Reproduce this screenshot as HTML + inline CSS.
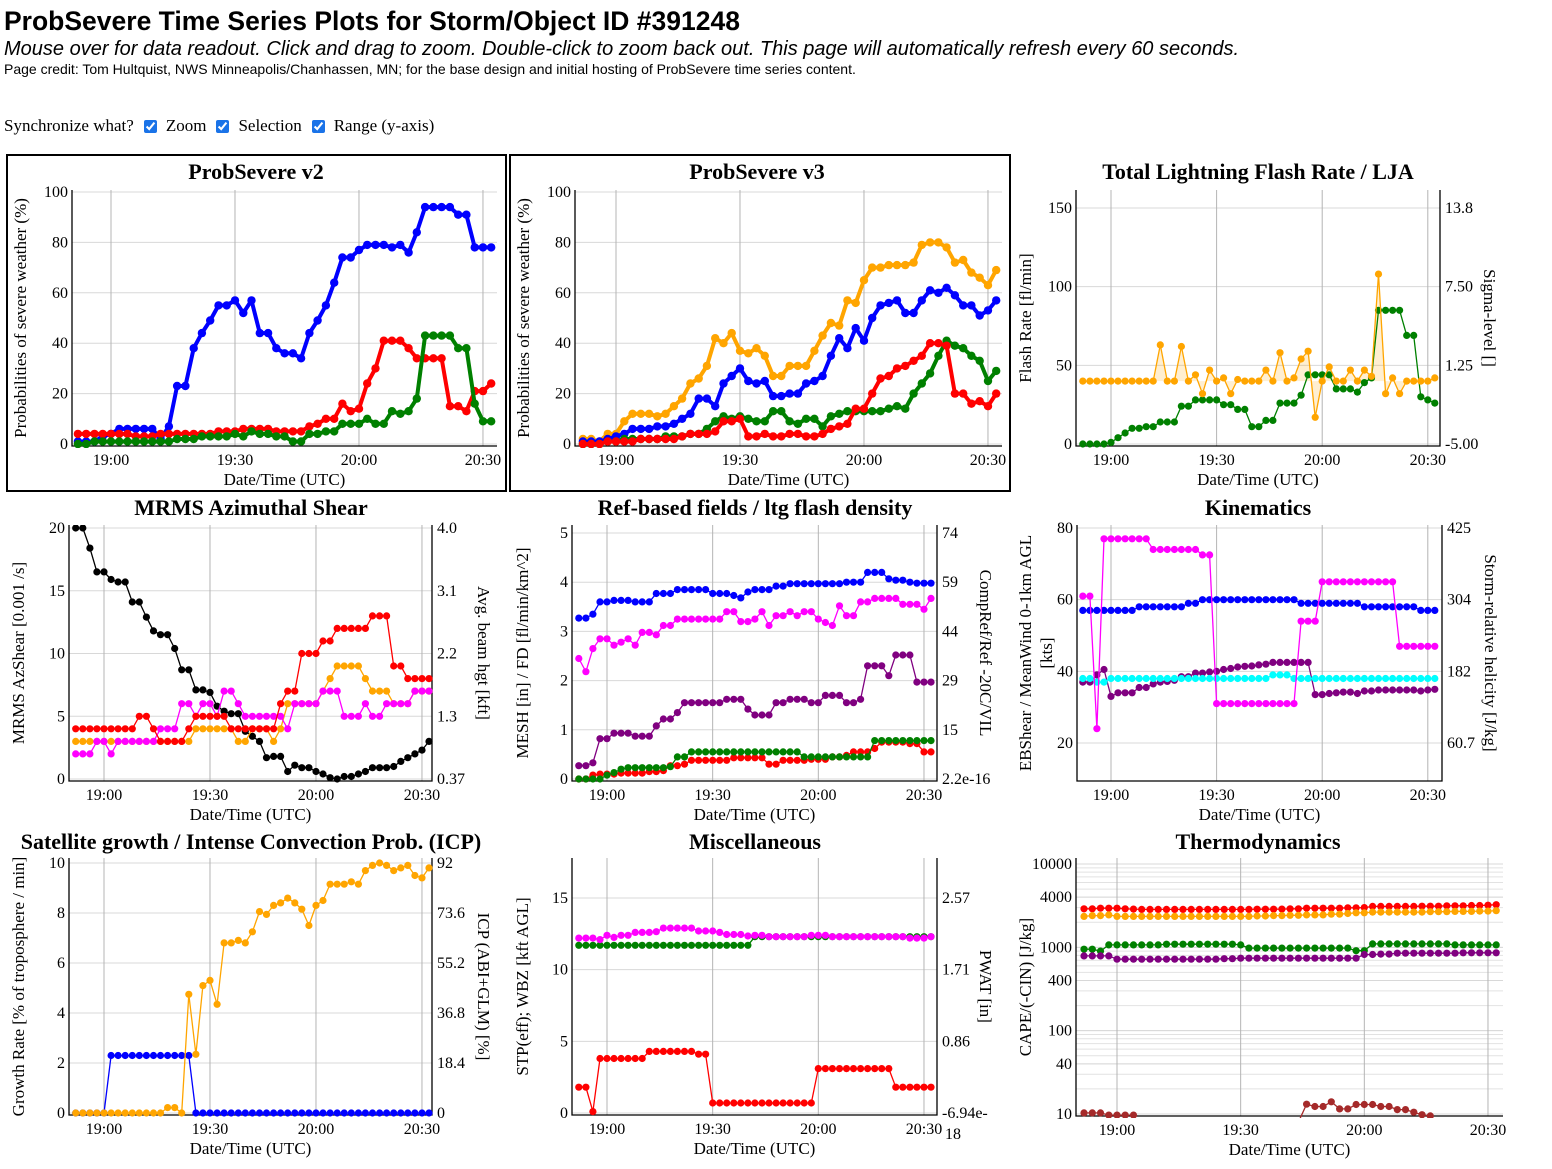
<!DOCTYPE html>
<html><head><meta charset="utf-8"><title>ProbSevere Time Series</title>
<style>
body{margin:0;width:1552px;height:1169px;background:#fff;position:relative;overflow:hidden;font-family:"Liberation Sans",sans-serif;}
#hdr{position:absolute;left:4px;top:0;}
h1{margin:0;position:absolute;top:6px;left:0;font:bold 26.5px "Liberation Sans",sans-serif;white-space:nowrap;}
.sub{position:absolute;top:38px;left:0;font:italic 20px "Liberation Sans",sans-serif;white-space:nowrap;}
.credit{position:absolute;top:61px;left:0;font:14px "Liberation Sans",sans-serif;white-space:nowrap;}
.sync{position:absolute;top:116px;left:0;font:17px "Liberation Serif",serif;white-space:nowrap;display:flex;align-items:center;}
.sync input{margin:0 9px 0 10px;width:13px;height:13px;accent-color:#1a73e8;}
svg{position:absolute;left:0;top:0;}
text{font-family:"Liberation Serif",serif;}
</style></head><body>
<div id="hdr">
<h1>ProbSevere Time Series Plots for Storm/Object ID #391248</h1>
<div class="sub">Mouse over for data readout. Click and drag to zoom. Double-click to zoom back out. This page will automatically refresh every 60 seconds.</div>
<div class="credit">Page credit: Tom Hultquist, NWS Minneapolis/Chanhassen, MN; for the base design and initial hosting of ProbSevere time series content.</div>
<div class="sync"><span>Synchronize what?</span><input type="checkbox" checked><span>Zoom</span><input type="checkbox" checked><span>Selection</span><input type="checkbox" checked><span>Range (y-axis)</span></div>
</div>
<svg id="charts" width="1552" height="1169">
<rect x="7" y="155" width="499" height="336" fill="none" stroke="#000" stroke-width="2"/>
<rect x="510" y="155" width="500" height="336" fill="none" stroke="#000" stroke-width="2"/>
</svg>
<script>
const times=["18:52","18:54","18:56","18:58","19:00","19:02","19:04","19:06","19:08","19:10","19:12","19:14","19:16","19:18","19:20","19:22","19:24","19:26","19:28","19:30","19:32","19:34","19:36","19:38","19:40","19:42","19:44","19:46","19:48","19:50","19:52","19:54","19:56","19:58","20:00","20:02","20:04","20:06","20:08","20:10","20:12","20:14","20:16","20:18","20:20","20:22","20:24","20:26","20:28","20:30","20:32"];
const xTickLabels=["19:00","19:30","20:00","20:30"];
// ProbSevere v2
const v2Blue=[1,1,1,3,4,6,6,6,6,6,2,7,23,23,38,44,49,55,55,57,52,57,44,44,38,36,36,34,44,49,55,64,74,74,77,79,79,79,78,79,76,84,94,94,94,94,91,91,78,78,78];
const v2Red=[4,4,4,4,4,4,4,3,3,3,4,4,4,4,4,4,4,5,5,5,6,6,6,6,5,5,5,5,7,8,10,10,16,13,14,24,30,41,41,41,38,34,34,34,34,15,15,13,21,21,24];
const v2Green=[0,0,1,1,1,1,1,1,1,1,1,1,2,2,2,3,3,3,3,4,3,5,4,4,3,3,1,1,4,4,5,5,8,8,8,10,8,8,13,12,13,18,43,43,43,43,38,38,16,9,9];
// ProbSevere v3
const v3Orange=[2,2,1,4,4,9,12,12,12,11,12,15,18,24,26,31,42,40,44,37,36,38,35,27,27,31,31,31,37,43,48,47,57,56,65,70,70,71,71,71,72,79,80,80,78,72,73,68,66,63,69];
const v3Blue=[1,1,1,2,3,4,6,6,6,7,7,8,10,12,18,18,15,24,27,30,25,24,25,19,19,20,20,24,25,27,35,42,38,46,41,50,55,56,57,52,52,57,61,60,62,59,55,55,51,53,57];
const v3Green=[0,0,0,1,1,2,2,2,2,2,3,3,3,4,4,6,9,11,10,11,10,9,9,13,13,9,8,10,10,7,11,12,13,13,13,13,13,14,15,14,20,24,28,35,41,39,38,35,33,25,29];
const v3Red=[0,0,0,1,1,1,1,2,2,2,2,2,3,4,4,4,5,9,9,10,3,3,4,3,3,4,4,3,3,4,6,7,8,14,14,20,26,27,30,31,33,35,40,40,39,20,20,16,17,15,20];
// Lightning
const flashRate=[40,40,40,40,40,40,40,40,40,40,40,63,40,40,62,40,44,32,47,40,42,32,41,40,40,40,47,40,58,40,42,54,59,17,40,49,40,40,47,40,47,43,108,32,42,32,40,40,40,40,42];
const ljaFlash=[0,0,0,0,1,4,7,10,10,11,11,14,14,14,24,24,28,28,28,28,25,25,22,22,11,11,15,15,26,26,26,31,44,44,44,44,35,35,35,33,39,42,85,85,85,85,69,69,30,28,26];
const flashBaseline=[40];
// AzShear
const azBlack=[20,20,18.4,16.5,16.5,15.9,15.7,15.7,14.1,14.1,12.9,11.8,11.5,11.5,10.4,8.7,8.7,7.1,7.1,6.9,5.8,5.4,5.2,5.2,3.8,3.4,3.0,1.7,1.8,1.8,0.6,1.1,0.9,0.9,0.6,0.4,0.1,0,0.2,0.2,0.4,0.6,0.9,0.9,0.9,1.0,1.4,1.7,2.0,2.3,3.0];
const azRed=[4,4,4,4,4,4,4,4,4,5,5,4,3,3,3,3,4,5,5,5,5,5,4,4,4,4,4,4,4,6,7,7,10,10,10,11,11,12,12,12,12,12,13,13,13,9,9,8,8,8,8];
const azOrange=[3,3,3,3,3,3,3,3,3,3,3,3,3,3,3,3,3,4,4,4,4,4,4,3,3,4,4,4,3,4,6,6,6,6,6,7,8,9,9,9,9,8,7,7,7,6,6,6,7,7,7];
const azMagenta=[2,2,2,3,3,2,3,3,3,3,3,3,4,4,4,6,6,5,6,6,5,7,7,6,5,5,5,5,5,5,4,6,6,6,6,7,7,7,5,5,5,6,5,5,6,6,6,6,7,7,7];
// Ref-based
const refBlue=[3.27,3.27,3.35,3.6,3.6,3.63,3.63,3.63,3.6,3.6,3.6,3.77,3.77,3.77,3.85,3.85,3.85,3.85,3.85,3.77,3.77,3.77,3.73,3.68,3.8,3.85,3.85,3.85,3.92,3.92,3.97,3.97,3.97,3.97,3.97,3.97,3.97,3.97,4.0,4.0,4.0,4.2,4.2,4.2,4.07,4.04,4.04,4.0,3.98,3.98,3.98];
const refMagenta=[2.45,2.18,2.65,2.85,2.85,2.72,2.78,2.85,2.72,2.98,2.98,2.93,3.12,3.12,3.25,3.25,3.25,3.25,3.25,3.25,3.25,3.4,3.4,3.2,3.2,3.25,3.4,3.12,3.32,3.32,3.4,3.32,3.4,3.4,3.25,3.18,3.12,3.52,3.32,3.32,3.6,3.6,3.67,3.67,3.67,3.67,3.55,3.55,3.55,3.45,3.67];
const refPurple=[0.27,0.27,0.33,0.82,0.82,0.93,0.93,0.93,0.87,0.87,0.87,1.08,1.22,1.22,1.35,1.55,1.55,1.55,1.55,1.55,1.55,1.62,1.62,1.62,1.42,1.3,1.3,1.3,1.55,1.55,1.62,1.62,1.62,1.55,1.55,1.7,1.7,1.7,1.55,1.55,1.62,2.3,2.3,2.3,2.1,2.52,2.52,2.52,1.97,1.97,1.97];
const refGreen=[0,0,0,0,0.08,0.13,0.2,0.23,0.23,0.23,0.23,0.23,0.23,0.25,0.45,0.45,0.55,0.55,0.55,0.55,0.55,0.55,0.55,0.55,0.55,0.55,0.55,0.55,0.55,0.55,0.55,0.55,0.45,0.45,0.45,0.45,0.45,0.45,0.45,0.45,0.45,0.45,0.78,0.78,0.78,0.78,0.78,0.78,0.78,0.78,0.78];
const refRed=[0,0,0.08,0.1,0.1,0.1,0.12,0.12,0.12,0.12,0.15,0.15,0.17,0.27,0.27,0.3,0.38,0.38,0.38,0.38,0.38,0.38,0.43,0.43,0.43,0.43,0.43,0.3,0.3,0.38,0.38,0.38,0.38,0.4,0.4,0.4,0.45,0.45,0.48,0.55,0.55,0.55,0.62,0.75,0.75,0.75,0.75,0.72,0.72,0.55,0.55];
// Kinematics
const kinBlue=[57,57,57,57,57,57,57,57,58,58,58,58,58,58,58,59,59,60,60,60,60,60,60,60,60,60,60,60,60,60,60,59,59,59,59,59,59,59,59,59,58,58,58,58,58,58,58,58,57,57,57];
const kinMagenta=[61,61,24,77,77,77,77,77,77,77,74,74,74,74,74,74,74,72.5,72.5,31,31,31,31,31,31,31,31,31,31,31,31,54,54,54,65,65,65,65,65,65,65,65,65,65,65,47,47,47,47,47,47];
const kinCyan=[38,38,37,37,38,38,38,38,38,38,38,38,38,38,38,38,38,38,38,38,38,38,38,38,38,38,38,39,39,39,38,38,38,38,38,38,38,38,38,38,38,38,38,38,38,38,38,38,38,38,38];
const kinPurple=[37,37,39,40.5,33,34,34,34,35.5,35.5,36.5,37,37.2,37.5,38.5,38.5,39.5,39.5,39.8,40,40.5,40.8,41.2,41.4,41.5,41.8,42,42.5,42.5,42.5,42.5,42.5,42.5,33.5,33.5,33.8,34,34.2,34.2,33.8,34.5,34.5,34.8,34.8,34.8,34.8,34.8,34.8,34.5,34.8,35];
// Satellite
const satBlue=[0,0,0,0,0,2.3,2.3,2.3,2.3,2.3,2.3,2.3,2.3,2.3,2.3,2.3,2.3,0,0,0,0,0,0,0,0,0,0,0,0,0,0,0,0,0,0,0,0,0,0,0,0,0,0,0,0,0,0,0,0,0,0];
const satICP=[0,0,0,0,0,0,0,0,0,0,0,0,0,2,2,0,43.7,21.6,46.9,48.8,40,62.6,62.6,63.5,62.6,66.7,74.1,73.1,76.4,77.3,79.1,77.3,75,69,76.4,78.2,84.2,84.2,84.2,85.1,84.2,89.2,91.1,92,91.1,89.2,90.2,91.1,87.4,86.5,90.2];
// Misc
const miscMagenta=[12.2,12.2,12.2,12.1,12.4,12.25,12.4,12.4,12.6,12.6,12.6,12.65,12.9,12.9,12.9,12.9,12.9,12.7,12.7,12.7,12.6,12.45,12.45,12.45,12.35,12.4,12.4,12.3,12.3,12.3,12.3,12.3,12.3,12.4,12.4,12.4,12.3,12.3,12.3,12.3,12.3,12.3,12.3,12.3,12.3,12.3,12.3,12.2,12.2,12.2,12.3];
const miscGreen=[11.7,11.7,11.7,11.7,11.7,11.7,11.7,11.7,11.7,11.7,11.7,11.7,11.7,11.7,11.7,11.7,11.7,11.7,11.7,11.7,11.7,11.7,11.7,11.7,11.7,12.3,12.3,12.3,12.3,12.3,12.3,12.3,12.3,12.3,12.3,12.3,12.3,12.3,12.3,12.3,12.3,12.3,12.3,12.3,12.3,12.3,12.3,12.3,12.3,12.3,12.3];
const miscRed=[1.8,1.8,0.1,3.8,3.8,3.8,3.8,3.8,3.8,3.8,4.3,4.3,4.3,4.3,4.3,4.3,4.3,4.1,4.1,0.7,0.7,0.7,0.7,0.7,0.7,0.7,0.7,0.7,0.7,0.7,0.7,0.7,0.7,0.7,3.1,3.1,3.1,3.1,3.1,3.1,3.1,3.1,3.1,3.1,3.1,1.8,1.8,1.8,1.8,1.8,1.8];
// Thermo
const thRed=[2900,2900,2950,2950,2950,2900,2880,2850,2850,2850,2850,2850,2850,2850,2850,2850,2850,2850,2850,2850,2850,2870,2870,2870,2880,2900,2900,2950,2950,2950,2950,2950,2980,2980,3000,3100,3100,3100,3100,3100,3100,3120,3120,3120,3150,3150,3150,3180,3180,3200,3250];
const thOrange=[2350,2400,2400,2450,2350,2350,2350,2350,2350,2350,2350,2350,2350,2350,2350,2350,2350,2350,2350,2350,2350,2380,2380,2400,2400,2420,2420,2450,2450,2450,2500,2500,2550,2600,2600,2650,2650,2650,2650,2650,2650,2650,2680,2680,2680,2700,2700,2700,2720,2720,2750];
const thGreen=[950,950,900,1070,1070,1070,1070,1070,1070,1070,1090,1090,1090,1090,1090,1090,1090,1090,1090,1070,980,980,980,980,980,980,980,980,980,980,980,980,980,910,910,1100,1100,1100,1100,1100,1100,1100,1100,1100,1100,1070,1070,1070,1070,1070,1070];
const thPurple=[790,790,790,790,720,720,720,720,720,720,720,720,720,720,720,720,720,730,730,740,740,740,740,740,740,740,740,740,740,740,740,740,740,740,820,820,830,830,850,850,850,850,850,850,850,850,860,860,860,860,860];
const thBrown=[10.3,10.3,10.3,9.7,9.7,9.7,9.7,null,null,null,null,null,null,null,null,null,null,null,null,null,null,null,null,null,null,null,8,13.1,12.3,12.3,14,11.5,11.5,13,13,13,12.3,12.3,11.3,11.3,10.5,9.8,9.5,null,null,null,null,null,null,null,null];

const NS="http://www.w3.org/2000/svg";
const svg=document.getElementById('charts');
function mk(tag,attrs,parent){const e=document.createElementNS(NS,tag);for(const k in attrs)e.setAttribute(k,attrs[k]);(parent||svg).appendChild(e);return e;}
function tmin(s){const p=s.split(':');return (+p[0])*60+(+p[1]);}

const charts=[
 {id:'probsevere-v2',title:'ProbSevere v2',tx:256,ty:179,L:72,R:497,T:190,B:446,x19:111,ppm:4.133,a:[0,444,100,192],ticks:[0,20,40,60,80,100],ltitle:['Probabilities of severe weather (%)'],ltx:[20],rt:null,thick:true,
  series:[['blue',v2Blue,'#0000ff'],['red',v2Red,'#ff0000'],['green',v2Green,'#008000']]},
 {id:'probsevere-v3',title:'ProbSevere v3',tx:757,ty:179,L:575,R:1002,T:190,B:446,x19:616,ppm:4.133,a:[0,444,100,192],ticks:[0,20,40,60,80,100],ltitle:['Probabilities of severe weather (%)'],ltx:[523],rt:null,thick:true,
  series:[['orange',v3Orange,'#ffa500'],['blue',v3Blue,'#0000ff'],['green',v3Green,'#008000'],['red',v3Red,'#ff0000']]},
 {id:'lightning',title:'Total Lightning Flash Rate / LJA',tx:1258,ty:179,L:1076,R:1440,T:190,B:446,x19:1111,ppm:3.52,a:[0,444,150,208],ticks:[0,50,100,150],rlabels:['-5.00','1.25','7.50','13.8'],ltitle:['Flash Rate [fl/min]'],ltx:[1025],rt:'Sigma-level []',rtx:1490,fill:true,
  series:[['lja-green',ljaFlash,'#008000'],['flash-rate-orange',flashRate,'#ffa500']]},
 {id:'azshear',title:'MRMS Azimuthal Shear',tx:251,ty:515,L:69,R:432,T:525,B:781,x19:104,ppm:3.533,a:[0,779,20,528],ticks:[0,5,10,15,20],rlabels:['0.37','1.3','2.2','3.1','4.0'],ltitle:['MRMS AzShear [0.001 /s]'],ltx:[18],rt:'Avg. beam hgt [kft]',rtx:484,
  series:[['black',azBlack,'#000000'],['orange',azOrange,'#ffa500'],['magenta',azMagenta,'#ff00ff'],['red',azRed,'#ff0000']]},
 {id:'ref-based',title:'Ref-based fields / ltg flash density',tx:755,ty:515,L:572,R:937,T:525,B:781,x19:607,ppm:3.522,a:[0,779,5,533],ticks:[0,1,2,3,4,5],rlabels:['2.2e-16','15','29','44','59','74'],ltitle:['MESH [in] / FD [fl/min/km^2]'],ltx:[522],rt:'CompRef/Ref -20C/VIL',rtx:986,
  series:[['blue',refBlue,'#0000ff'],['magenta',refMagenta,'#ff00ff'],['purple',refPurple,'#800080'],['red',refRed,'#ff0000'],['green',refGreen,'#008000']]},
 {id:'kinematics',title:'Kinematics',tx:1258,ty:515,L:1077,R:1442,T:525,B:781,x19:1111,ppm:3.52,a:[20,743,80,528],ticks:[20,40,60,80],rlabels:['60.7','182','304','425'],ltitle:['EBShear / MeanWind 0-1km AGL','[kts]'],ltx:[1025,1046],rt:'Storm-relative helicity [J/kg]',rtx:1491,
  series:[['blue',kinBlue,'#0000ff'],['purple',kinPurple,'#800080'],['cyan',kinCyan,'#00ffff'],['magenta',kinMagenta,'#ff00ff']]},
 {id:'satellite',title:'Satellite growth / Intense Convection Prob. (ICP)',tx:251,ty:849,L:69,R:432,T:858,B:1115,x19:104,ppm:3.533,a:[0,1113,10,863],ticks:[0,2,4,6,8,10],rlabels:['0','18.4','36.8','55.2','73.6','92'],ltitle:['Growth Rate [% of troposphere / min]'],ltx:[18],rt:'ICP (ABI+GLM) [%]',rtx:484,
  series:[['growth-blue',satBlue,'#0000ff'],['icp-orange',satICP,'#ffa500',9.2]]},
 {id:'misc',title:'Miscellaneous',tx:755,ty:849,L:572,R:937,T:858,B:1115,x19:607,ppm:3.522,a:[0,1113,15,898],ticks:[0,5,10,15],rlabels:['-6.94e-','0.86','1.71','2.57'],ltitle:['STP(eff); WBZ [kft AGL]'],ltx:[522],rt:'PWAT [in]',rtx:986,
  series:[['green',miscGreen,'#008000'],['magenta',miscMagenta,'#ff00ff'],['red',miscRed,'#ff0000']]},
 {id:'thermo',title:'Thermodynamics',tx:1258,ty:849,L:1076,R:1503,T:858,B:1116,x19:1117,ppm:4.122,a:[1,1114,4,864],log:true,ticks:[10,40,100,400,1000,4000,10000],ltitle:['CAPE/(-CIN) [J/kg]'],ltx:[1025],rt:null,
  series:[['red',thRed,'#ff0000'],['orange',thOrange,'#ffa500'],['green',thGreen,'#008000'],['purple',thPurple,'#800080'],['brown',thBrown,'#a52a2a']]}
];

charts.forEach((c,ci)=>{
  const g=mk('g',{});
  
  
  const a=c.a;
  const yv=v=>{const t=c.log?Math.log10(v):v;return a[1]+(t-a[0])*(a[3]-a[1])/(a[2]-a[0]);};
  const xv=i=>c.x19+(tmin(times[i])-1140)*c.ppm;
  const title=mk('text',{x:c.tx,y:c.ty,'text-anchor':'middle','font-size':'22','font-weight':'bold'},g);
  title.textContent=c.title;
  
  
  if(c.log){
    for(let d=10;d<10000;d*=10){for(let m=1;m<10;m++){const yy=yv(d*m);if(yy<c.T)continue;
      const ln=mk('line',{x1:c.L,x2:c.R,y1:yy,y2:yy,stroke:'#e2e2e2','stroke-width':1},g);
      
      }}
  }
  c.ticks.forEach((t,k)=>{
    const yy=yv(t);
    const ln=mk('line',{x1:c.L,x2:c.R,y1:yy,y2:yy,stroke:'#d8d8d8','stroke-width':1},g);
    
    
    const lb=mk('text',{x:c.L-4,y:yy+5,'text-anchor':'end','font-size':'16'},g);
    lb.textContent=String(t);
    
    
    if(c.rlabels){
      const rl=mk('text',{x:c.R+5,y:yy+5,'font-size':'16'},g);
      rl.textContent=c.rlabels[k];
      
      
    }
  });
  xTickLabels.forEach(s=>{
    const xx=c.x19+(tmin(s)-1140)*c.ppm;
    const ln=mk('line',{x1:xx,x2:xx,y1:c.T,y2:c.B,stroke:'#b4b4b4','stroke-width':1},g);
    
    
    const lb=mk('text',{x:xx,y:c.B+19,'text-anchor':'middle','font-size':'16'},g);
    lb.textContent=s;
    
    
  });
  if(c.id==='misc'){const e18=mk('text',{x:c.R+8,y:c.B+24,'font-size':'16'},g);e18.textContent='18';
    
    }
  const ax=mk('path',{d:`M${c.L},${c.T}V${c.B}H${c.R}`+(c.rlabels?`V${c.T}`:''),fill:'none',stroke:'#000','stroke-width':1.3},g);
  
  
  const xt=mk('text',{x:(c.L+c.R)/2,y:c.B+39,'text-anchor':'middle','font-size':'17'},g);
  xt.textContent='Date/Time (UTC)';
  
  
  c.ltitle.forEach((s,k)=>{
    const cy=(c.T+c.B)/2;
    const lt=mk('text',{x:c.ltx[k],y:cy,'text-anchor':'middle','font-size':'17',transform:`rotate(-90 ${c.ltx[k]} ${cy})`,dy:'6'},g);
    lt.textContent=s;
    
    
  });
  if(c.rt){
    const cy=(c.T+c.B)/2;
    const rt=mk('text',{x:c.rtx,y:cy,'text-anchor':'middle','font-size':'17',transform:`rotate(90 ${c.rtx} ${cy})`,dy:'6'},g);
    rt.textContent=c.rt;
    
    
  }
  const cp=mk('clipPath',{id:'clip'+ci},g);
  mk('rect',{x:c.L,y:c.T,width:c.R-c.L+6,height:c.B-c.T+2},cp);
  const pg=mk('g',{'clip-path':`url(#clip${ci})`},g);
  const lw=c.thick?4:1.3, r=c.thick?4.2:3.6;
  if(c.fill){
    const fr=c.series[1][1];
    let d=`M${xv(0)},${yv(flashBaseline[0])}`;
    fr.forEach((v,i)=>{d+=`L${xv(i)},${yv(v)}`;});
    d+=`L${xv(fr.length-1)},${yv(flashBaseline[0])}Z`;
    const f=mk('path',{d:d,fill:'rgba(255,165,0,0.18)',stroke:'none'},pg);
    
    
  }
  c.series.forEach(s=>{
    const sc=s[3]||1;
    const sg=mk('g',{},pg);
    
    
    let d='',pen=false;
    s[1].forEach((v,i)=>{if(v===null){pen=false;return;}d+=(pen?'L':'M')+xv(i).toFixed(1)+','+yv(v/sc).toFixed(1);pen=true;});
    const p=mk('path',{d:d,fill:'none',stroke:s[2],'stroke-width':lw,'stroke-linejoin':'round'},sg);
    
    
    s[1].forEach((v,i)=>{if(v===null)return;
      const pt=mk('circle',{cx:xv(i).toFixed(1),cy:yv(v/sc).toFixed(1),r:r,fill:s[2]},sg);
      
      
    });
  });
});
</script>
</body></html>
